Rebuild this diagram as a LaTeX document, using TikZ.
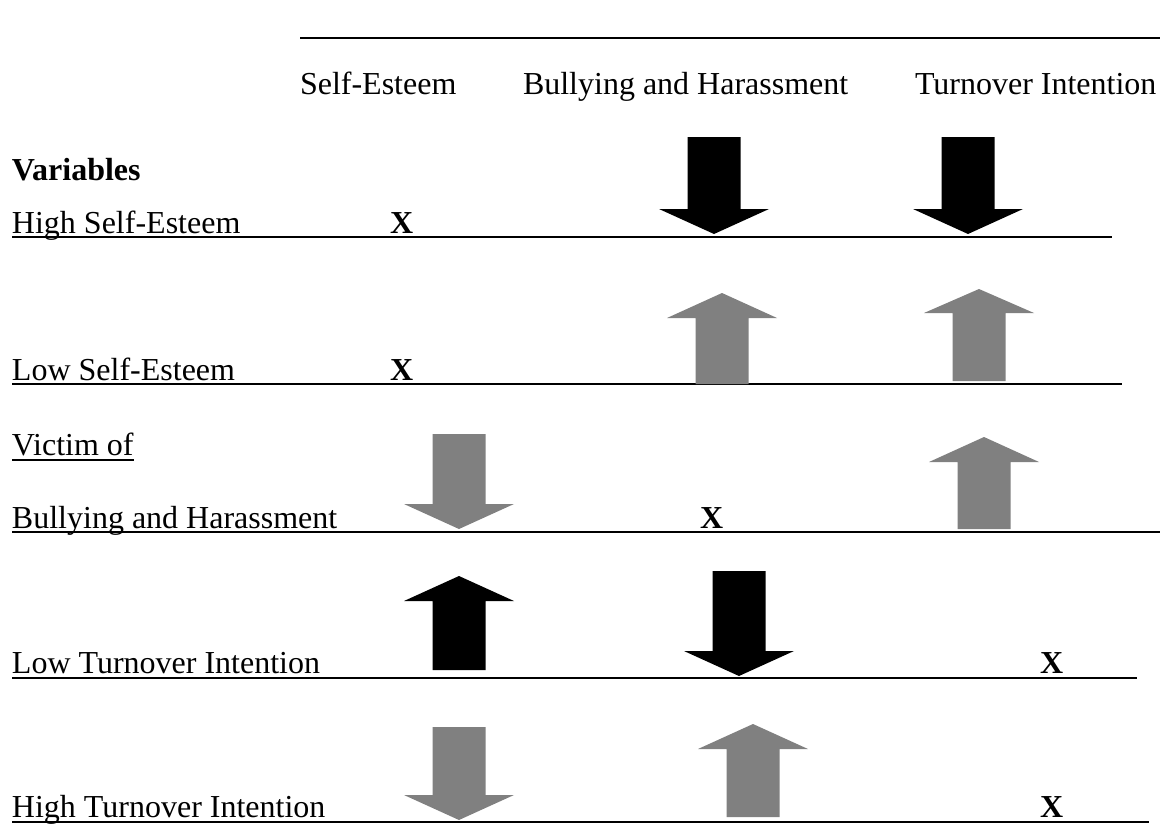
\documentclass[tikz,border=0pt]{standalone}
\usepackage{fontspec}
\setmainfont{Liberation Serif}
\tikzset{
  x=1pt, y=-1pt,
  lbl/.style={anchor=base west, inner sep=0pt, outer sep=0pt, font=\fontsize{32}{38}\selectfont},
  xmark/.style={lbl, font=\fontsize{32}{38}\selectfont\bfseries},
  rule/.style={line width=2.5pt},
  blackarrow/.style={fill=black},
  grayarrow/.style={fill=gray},
}
% block arrows: centre x, shaft end y, head base y, tip y, style
\newcommand\blockarrow[5]{%
  \fill[#5] (#1-26.5,#2) -- (#1+26.5,#2) -- (#1+26.5,#3) -- (#1+55,#3)
    -- (#1,#4) -- (#1-55,#3) -- (#1-26.5,#3) -- cycle;}
\begin{document}
\begin{tikzpicture}
\useasboundingbox (0,0) rectangle (1163,827);

% heading rule and column titles
\draw[line width=2pt] (300,38) -- (1160,38);
\node[lbl] (colse) at (300,94) {Self-Esteem};
\node[lbl] (colbh) at (523,94) {Bullying and Harassment};
\node[lbl] (colti) at (915,94) {Turnover Intention};

\node[lbl, font=\fontsize{32}{38}\selectfont\bfseries] (vars) at (12,180) {Variables};

% row 1
\node[lbl] (r1) at (12,233) {High Self-Esteem};
\node[xmark] (x1) at (390,233) {X};
\draw[rule] (12,237) -- (1112,237);
\blockarrow{714}{137}{209}{234}{blackarrow}
\blockarrow{968}{137}{209}{234}{blackarrow}

% row 2
\node[lbl] (r2) at (12,380) {Low Self-Esteem};
\node[xmark] (x2) at (390,380) {X};
\draw[rule] (12,384) -- (1122,384);
\blockarrow{722}{384}{318}{293}{grayarrow}
\blockarrow{979}{381}{313}{289}{grayarrow}

% row 3
\node[lbl] (r3a) at (12,455) {Victim of};
\draw[line width=2pt] (12,460) -- (r3a.base east |- 0,460);
\node[lbl] (r3) at (12,528) {Bullying and Harassment};
\node[xmark] (x3) at (700,528) {X};
\draw[rule] (12,532) -- (1160,532);
\blockarrow{459}{434}{504}{529}{grayarrow}
\blockarrow{984}{529}{462}{437}{grayarrow}

% row 4
\node[lbl] (r4) at (12,673) {Low Turnover Intention};
\node[xmark] (x4) at (1040,673) {X};
\draw[rule] (12,678) -- (1137,678);
\blockarrow{459}{670}{601}{576}{blackarrow}
\blockarrow{739}{571}{651}{676}{blackarrow}

% row 5
\node[lbl] (r5) at (12,817) {High Turnover Intention};
\node[xmark] (x5) at (1040,817) {X};
\draw[rule] (12,822) -- (1149,822);
\blockarrow{459}{727}{795}{820}{grayarrow}
\blockarrow{753}{817}{749}{724}{grayarrow}
\end{tikzpicture}
\end{document}
